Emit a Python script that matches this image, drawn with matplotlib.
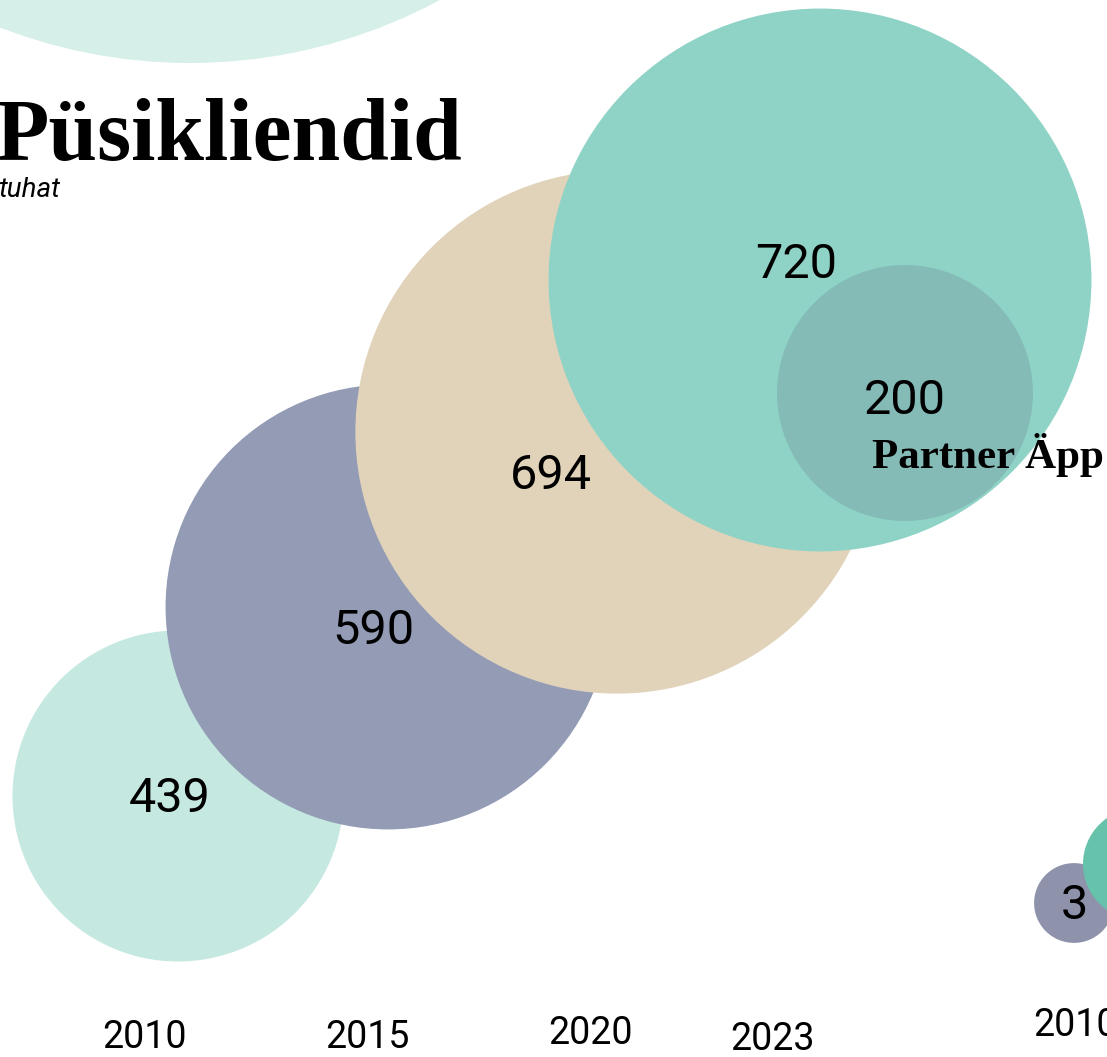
import matplotlib.pyplot as plt
from matplotlib.patches import Circle

# data (thousands of loyal customers)
years = ['2010', '2015', '2020', '2023']
customers = [439, 590, 694, 720]
partner_label = 'Partner Äpp'
partner_value = 200
side_years = ['2010']
side_values = [3]

# layout (pixels, y downward)
px_per_unit = 0.377
partner_px_per_unit = 0.64
side_px_per_unit = 13.3
centers = [(178, 796), (388, 607), (617, 432), (820, 280)]
label_pos = [(170, 799), (373, 631), (551, 476), (796, 265)]
year_pos = [(144, 1038), (367, 1038), (590, 1034), (773, 1040)]
colors = ['#c5e8e0', '#939bb5', '#e1d3b9', '#8fd3c6']

fig = plt.figure(figsize=(11.07, 10.57), dpi=100)
ax = fig.add_axes([0, 0, 1, 1])
ax.set_xlim(0, 1107)
ax.set_ylim(1057, 0)
ax.set_aspect('equal')
ax.axis('off')

# piece of the previous chart peeking in at the top
ax.add_patch(Circle((190, -464), 527, color='#d6efe9', lw=0))

for (cx, cy), v, c in zip(centers, customers, colors):
    ax.add_patch(Circle((cx, cy), v * px_per_unit, color=c, lw=0))

# partner app circle inside the 2023 bubble
ax.add_patch(Circle((905, 393), partner_value * partner_px_per_unit,
                    color='#84bbb7', lw=0))

# next chart starting on the right edge
ax.add_patch(Circle((1074, 903), side_values[0] * side_px_per_unit,
                    color='#8e93ab', lw=0))
ax.add_patch(Circle((1139, 864), 56, color='#66c2ab', lw=0))

num_font = dict(family='Roboto', fontsize=35, color='black',
                ha='center', va='center')
for (lx, ly), v in zip(label_pos, customers):
    ax.text(lx, ly, str(v), **num_font)
ax.text(905, 401, str(partner_value), **num_font)
ax.text(1074, 906, str(side_values[0]), **num_font)

ax.text(872, 468, partner_label, family='Liberation Serif',
        fontweight='bold', fontsize=31, ha='left', va='baseline')

for (yx, yy), y in zip(year_pos, years):
    ax.text(yx, yy, y, family='Roboto', fontsize=27,
            ha='center', va='center')
ax.text(1033, 1025, side_years[0], family='Roboto', fontsize=27,
        ha='left', va='center')

ax.text(-4, 160, 'Püsikliendid', family='Liberation Serif',
        fontweight='bold', fontsize=63, ha='left', va='baseline')
ax.text(-2, 197, 'tuhat', family='Roboto', style='italic',
        fontsize=20, ha='left', va='baseline')

fig.savefig('out.png', dpi=100)
